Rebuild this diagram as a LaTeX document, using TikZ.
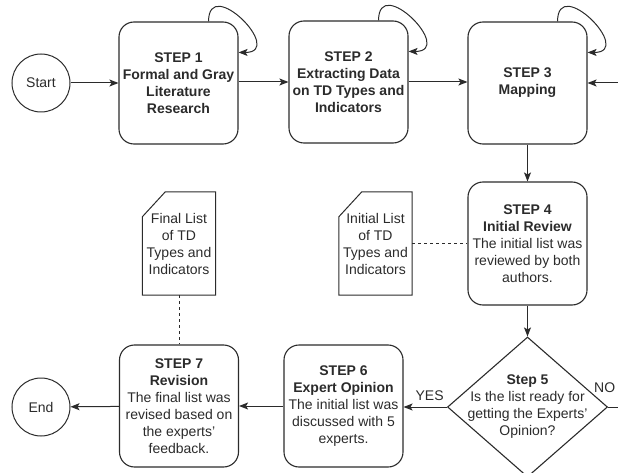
\documentclass[tikz,border=0pt]{standalone}
\usepackage{fontspec}
\setmainfont{Liberation Sans}
\usetikzlibrary{arrows.meta,shapes.geometric}
\definecolor{Ink}{HTML}{2B2B2B}

\begin{document}
\begin{tikzpicture}[x=1pt,y=-1pt,font=\fontsize{14}{17}\selectfont,text=Ink,>={Stealth[length=9pt,width=7pt,inset=2pt]},
    stepbox/.style={draw=Ink,line width=1.1pt,rounded corners=15pt,minimum width=119pt,minimum height=122pt,align=center,inner sep=1pt},
    termnode/.style={draw=Ink,line width=1pt,circle,minimum size=58pt,inner sep=0pt},
    docnode/.style={minimum width=73pt,minimum height=103pt,align=center,inner sep=0pt},
    flow/.style={draw=Ink,line width=1pt}]
  \useasboundingbox (0,0) rectangle (618,473);
  \clip (0,0) rectangle (618,473);

  % top row
  \node[termnode] (start) at (41,83) {Start};
  \node[stepbox] (s1) at (178.5,83) {\bfseries STEP 1\\\bfseries Formal and Gray\\\bfseries Literature\\\bfseries Research};
  \node[stepbox] (s2) at (348.5,82) {\bfseries STEP 2\\\bfseries Extracting Data\\\bfseries on TD Types and\\\bfseries Indicators};
  \node[stepbox] (s3) at (527.5,83) {\bfseries STEP 3\\\bfseries Mapping};

  % middle row
  \node[stepbox,minimum height=123pt] (s4) at (527.5,243.5) {\bfseries STEP 4\\\bfseries Initial Review\\The initial list was\\reviewed by both\\authors.};
  \node[docnode] (initdoc) at (375.5,243.5) {Initial List\\of TD\\Types and\\Indicators};
  \node[docnode] (finaldoc) at (179,243.5) {Final List\\of TD\\Types and\\Indicators};

  % bottom row
  \node[diamond,draw=Ink,line width=1.1pt,minimum width=160pt,minimum height=140pt,inner sep=0pt,
    label={[align=center,text=Ink]center:{\bfseries Step 5\\Is the list ready for\\getting the Experts'\\Opinion?}}] (s5) at (527.5,407) {};
  \node[stepbox] (s6) at (343.5,406) {\bfseries STEP 6\\\bfseries Expert Opinion\\The initial list was\\discussed with 5\\experts.};
  \node[stepbox] (s7) at (179,406) {\bfseries STEP 7\\\bfseries Revision\\The final list was\\revised based on\\the experts'\\feedback.};
  \node[termnode] (end) at (41,407) {End};

  % documents
  \foreach \d in {finaldoc,initdoc}
    \draw[flow] (\d.south west) -- ([yshift=-25pt]\d.north west) -- ([xshift=23pt]\d.north west) -- (\d.north east) -- (\d.south east) -- cycle;

  % connectors
  \draw[flow,->] (start) -- (s1);
  \draw[flow,->] (s1.east |- 0,82) -- (s2.west |- 0,82);
  \draw[flow,->] (s2) -- (s3.west |- s2);
  \draw[flow,->] (s3) -- (s4);
  \draw[flow,->] (s4) -- (s5);
  \draw[flow,->] (s5) -- node[above=3pt,pos=0.4] (yes) {YES} (s6.east |- s5);
  \draw[flow,->] (s6) -- (s7);
  \draw[flow,->] (s7) -- (end);
  \draw[flow,->] (s5.east) -- ++(40,0) |- (s3.east);
  \node[anchor=west,inner sep=0pt] (no) at (594,388) {NO};
  \draw[flow,dashed] (initdoc.east) -- (s4.west);
  \draw[flow,dashed] (finaldoc.south) -- (s7.north);

  % self loops
  \foreach \s in {s1,s2,s3}
    \draw[flow,->] ([xshift=-30pt]\s.north east) to[out=90,in=0,looseness=2.8] ([yshift=-31pt]\s.north east);
\end{tikzpicture}
\end{document}
